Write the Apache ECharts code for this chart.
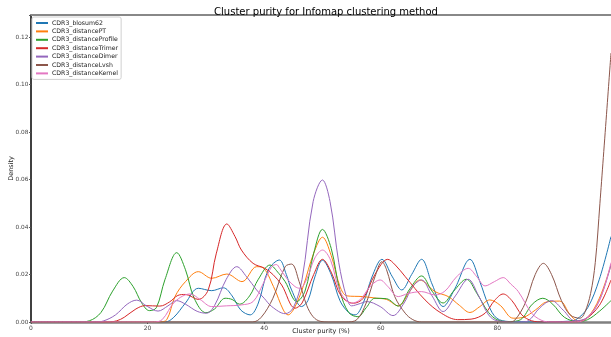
<!DOCTYPE html>
<html><head><meta charset="utf-8">
<script src="https://cdn.jsdelivr.net/npm/echarts@6/dist/echarts.min.js"></script>
<style>html,body{margin:0;padding:0;background:#fff}#c{width:611px;height:337px}</style>
</head><body><div id="c"></div>
<script>
const seriesNames = ["CDR3_blosum62","CDR3_distancePT","CDR3_distanceProfile","CDR3_distanceTrimer","CDR3_distanceDimer","CDR3_distanceLvsh","CDR3_distanceKernel"];
const seriesColors = ["#1f77b4","#ff7f0e","#2ca02c","#d62728","#9467bd","#8c564b","#e377c2"];
const xTicks = [0,20,40,60,80];
const yTicks = [0,0.02,0.04,0.06,0.08,0.10,0.12];

const blosum62 = [[0,0],[23,0],[24.5,0.002],[26.5,0.008],[28.7,0.0142],[31,0.0132],[33,0.0144],[34.5,0.011],[36,0.005],[37.6,0.003],[39,0.008],[40.7,0.0219],[42.6,0.0261],[43.8,0.02],[44.7,0.0135],[46.4,0.0065],[47.5,0.009],[48.7,0.019],[50,0.026],[51.5,0.02],[53,0.009],[54.5,0.004],[55.6,0.003],[57,0.008],[58.5,0.019],[60.2,0.0264],[62,0.019],[63.6,0.0135],[65.3,0.02],[67,0.0264],[68.8,0.016],[70.7,0.0065],[72.7,0.014],[75.3,0.0264],[77,0.017],[78.5,0.007],[79.9,0.0016],[82,0.0002],[88,0],[92,0.0003],[93.5,0.001],[95.5,0.006],[97.5,0.018],[99.5,0.036]];
const distancePT = [[0,0],[22,0],[23.3,0.001],[24.7,0.0107],[26.5,0.017],[28.7,0.0212],[31,0.0184],[33.6,0.0202],[36.2,0.017],[38.7,0.0233],[39.7,0.023],[41.6,0.0149],[43.3,0.005],[44.1,0.003],[45.2,0.006],[46.7,0.015],[48.5,0.029],[50,0.0357],[51.5,0.028],[53,0.015],[54.2,0.011],[57,0.0107],[59.3,0.010],[61,0.0095],[63,0.0068],[65,0.013],[66.7,0.0177],[69.3,0.0128],[71.6,0.0107],[73.5,0.007],[75.3,0.004],[77,0.0065],[78.7,0.0093],[80.5,0.007],[82.7,0.0016],[84.5,0.002],[86.5,0.005],[88.5,0.0085],[90.7,0.0088],[92.5,0.003],[93.8,0.0005],[95.5,0.002],[97.5,0.010],[99.5,0.024]];
const distanceProfile = [[0,0],[8,0],[10,0.0005],[12,0.004],[14,0.013],[16,0.0187],[17.5,0.015],[19,0.008],[20.3,0.0048],[21.5,0.006],[23,0.018],[25,0.0292],[26.5,0.022],[28,0.010],[30,0.0039],[31.5,0.0055],[33.3,0.010],[34.5,0.0095],[35.8,0.0075],[37.5,0.011],[39,0.018],[41,0.024],[42.5,0.0205],[43.6,0.017],[45.6,0.0086],[47,0.013],[48.5,0.029],[50,0.039],[51.5,0.031],[53,0.013],[54.5,0.004],[56.1,0.0022],[57.5,0.006],[59,0.010],[61,0.0098],[63,0.0067],[65,0.014],[67,0.0194],[68.8,0.013],[70.7,0.008],[72.5,0.013],[74.7,0.018],[76.5,0.012],[78.5,0.004],[80.1,0.0008],[82,0.0002],[84,0.001],[86,0.0075],[87.8,0.010],[89.5,0.0075],[91.5,0.002],[93.8,0.0002],[95.5,0.001],[97.5,0.0045],[99.5,0.009]];
const distanceTrimer = [[0,0],[13,0],[14.7,0.0005],[16,0.002],[18,0.0055],[19.6,0.0069],[22.1,0.0067],[23.8,0.0085],[25.2,0.0112],[26.5,0.0116],[28.7,0.0095],[30.4,0.0135],[31.8,0.029],[33.6,0.0413],[35,0.036],[36.1,0.0303],[38.1,0.0247],[40.1,0.0226],[41.5,0.02],[43,0.0156],[45.3,0.0058],[46.5,0.008],[48.5,0.02],[50,0.0264],[51.5,0.021],[53.2,0.011],[55.3,0.0079],[57,0.01],[59,0.02],[61.2,0.0264],[62.5,0.024],[64.2,0.0191],[67.6,0.0093],[70.4,0.0037],[73.2,0.001],[75.5,0.0012],[77.9,0.0037],[79.5,0.009],[81,0.0118],[82.5,0.009],[84.2,0.003],[85.9,0.0005],[88,0],[93,0],[95,0.001],[97.5,0.007],[99.5,0.0177]];
const distanceDimer = [[0,0],[11,0],[12.5,0.0005],[14.5,0.003],[16.5,0.0075],[18.1,0.0092],[20,0.0065],[21.8,0.0046],[23.5,0.0068],[25,0.009],[26.5,0.0075],[28.5,0.0045],[30.1,0.0037],[31.5,0.007],[33.5,0.018],[35.3,0.0233],[37,0.019],[38.7,0.0135],[40,0.01],[41.3,0.0065],[43.6,0.0035],[45,0.006],[46.5,0.018],[48.4,0.0507],[50,0.0598],[51.3,0.0507],[52.8,0.025],[54.1,0.0107],[55,0.0068],[56.5,0.0078],[57.6,0.0086],[59.9,0.0065],[62.1,0.0027],[64,0.008],[65.5,0.015],[67,0.0177],[68.8,0.011],[70.7,0.0044],[72.8,0.011],[75,0.018],[76.8,0.011],[78.5,0.003],[80,0.0005],[84,0],[85.3,0.0005],[87.3,0.006],[89.3,0.009],[91.3,0.005],[93.3,0.0005],[95.5,0.002],[97.5,0.009],[99.5,0.024]];
const distanceLvsh = [[0,0],[38,0],[39.5,0.002],[41.5,0.01],[43.6,0.0233],[44.7,0.0244],[46,0.017],[47.3,0.007],[48.4,0.0022],[49.6,0.0003],[51,0],[54,0],[55.9,0.001],[57.5,0.008],[59,0.019],[60.2,0.0254],[61,0.022],[62.4,0.0107],[64.2,0.0037],[65.5,0.001],[67,0],[82,0],[83,0.0008],[84.8,0.008],[86.5,0.02],[87.9,0.0247],[89.3,0.02],[91,0.009],[92.5,0.003],[94.2,0.0016],[95,0.004],[96,0.012],[96.8,0.025],[97.6,0.05],[99.5,0.1133]];
const distanceKernel = [[0,0],[21,0],[22.5,0.001],[24.7,0.0086],[27.3,0.0118],[29,0.0095],[31,0.0065],[33.5,0.0068],[36.1,0.0072],[38.1,0.0086],[39.8,0.016],[41.3,0.0233],[42.1,0.0242],[42.7,0.0225],[44,0.018],[45.3,0.0149],[46.1,0.0142],[47.3,0.018],[48.7,0.027],[50,0.0303],[51.4,0.026],[53,0.013],[55,0.0079],[56.5,0.0095],[58.2,0.015],[59.9,0.0177],[61.2,0.015],[63,0.0107],[64.7,0.012],[67,0.0128],[69.3,0.0114],[71,0.013],[73,0.019],[75,0.0226],[76.5,0.019],[77.9,0.0152],[79.5,0.017],[81,0.0187],[82.3,0.016],[83.6,0.0128],[85.9,0.0037],[87.5,0.0008],[89,0],[93,0],[95,0.001],[97.5,0.009],[99.5,0.025]];

const allData = [blosum62, distancePT, distanceProfile, distanceTrimer, distanceDimer, distanceLvsh, distanceKernel];

const chart = echarts.init(document.getElementById('c'), null, {renderer:'canvas'});
const font = 'DejaVu Sans';
chart.setOption({
  animation: false,
  backgroundColor: '#fff',
  title: {text: 'Cluster purity for Infomap clustering method', left: 321, textAlign: 'center', top: 2,
    textStyle: {fontFamily: font, fontSize: 10, fontWeight: 'normal', color: '#000'}},
  legend: {
    orient: 'vertical', left: 32, top: 17, itemWidth: 12, itemHeight: 2, itemGap: 2.4,
    icon: 'rect', backgroundColor: '#fff', borderColor: '#d0d0d0', borderWidth: 1, borderRadius: 2,
    padding: [3, 3, 3, 4],
    textStyle: {fontFamily: font, fontSize: 6.2, color: '#222', padding: [0,0,0,-1]},
    data: seriesNames
  },
  grid: {left: 31, right: 0, top: 15, bottom: 15, containLabel: false, outerBoundsMode: 'none'},
  xAxis: [{
    type: 'value', min: 0, max: 99.5, interval: 20,
    name: 'Cluster purity (%)', nameLocation: 'middle', nameGap: 6, nameMoveOverlap: false,
    nameTextStyle: {fontFamily: font, fontSize: 6.5, color: '#222', verticalAlign: 'top'},
    axisLine: {show: true, lineStyle: {color: '#808080', width: 2.5}},
    axisTick: {show: true, length: 2, lineStyle: {color: '#555'}},
    axisLabel: {fontFamily: font, fontSize: 6, color: '#444', margin: 3,
      formatter: v => xTicks.includes(v) ? String(v) : ''},
    splitLine: {show: false}
  }, {
    type: 'value', position: 'top', min: 0, max: 99.5,
    axisLine: {show: true, onZero: false, lineStyle: {color: '#888', width: 2}},
    axisTick: {show: false}, axisLabel: {show: false}, splitLine: {show: false}
  }],
  yAxis: {
    type: 'value', min: 0, max: 0.1293, interval: 0.02,
    name: 'Density', nameLocation: 'middle', nameGap: 16, nameMoveOverlap: false,
    nameTextStyle: {fontFamily: font, fontSize: 6.5, color: '#222'},
    axisLine: {show: true, lineStyle: {color: '#000', width: 1.5}},
    axisTick: {show: true, length: 2, lineStyle: {color: '#555'}},
    axisLabel: {fontFamily: font, fontSize: 5.8, color: '#444', margin: 2.5,
      formatter: v => yTicks.some(t => Math.abs(t - v) < 1e-9) ? v.toFixed(2) : ''},
    splitLine: {show: false}
  },
  series: allData.map((d, i) => ({
    name: seriesNames[i], type: 'line', data: d, smooth: 0.35, showSymbol: false,
    clip: true, xAxisIndex: 0,
    lineStyle: {color: seriesColors[i], width: 1}, itemStyle: {color: seriesColors[i]}
  }))
});
</script></body></html>
